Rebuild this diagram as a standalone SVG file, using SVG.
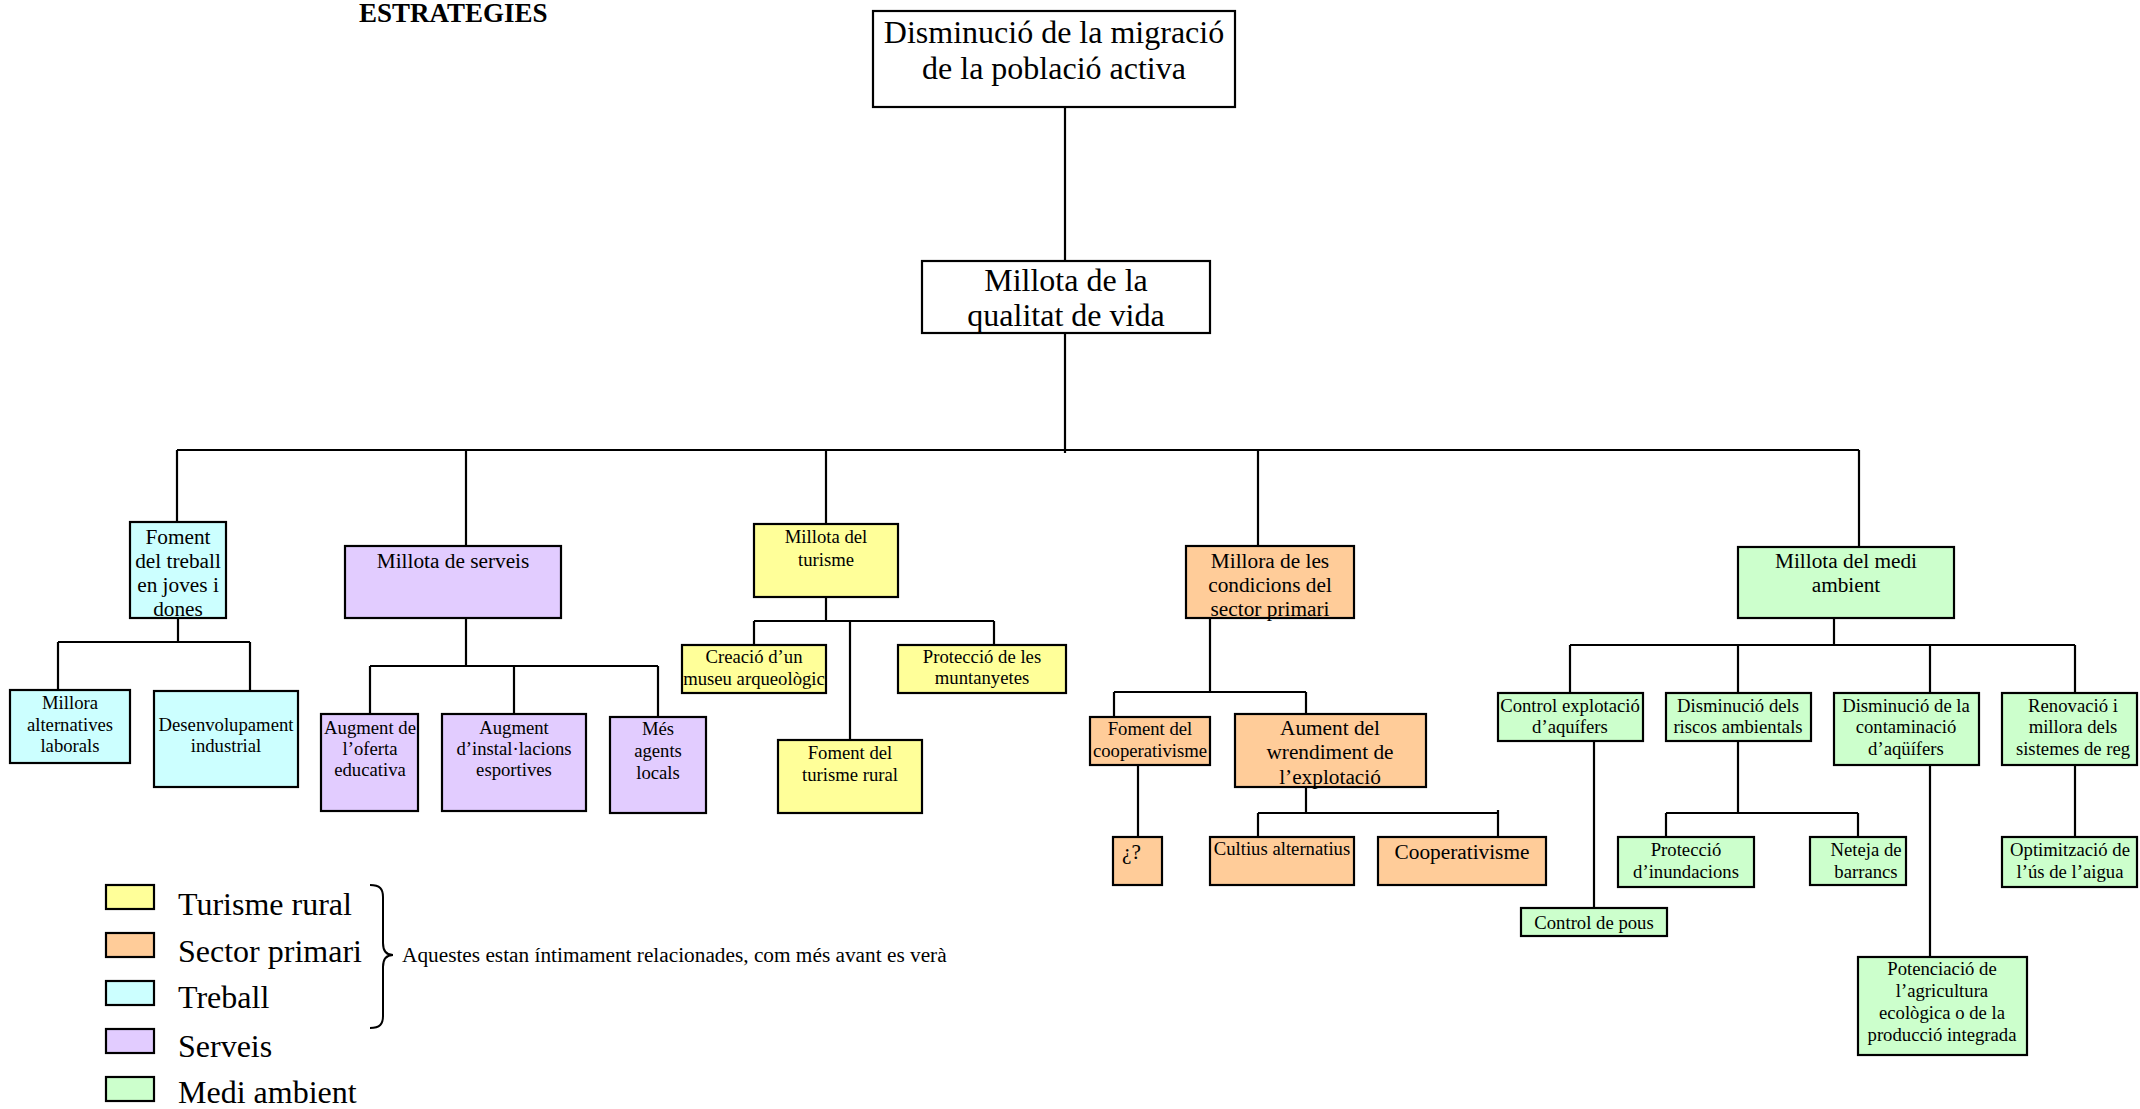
<svg xmlns="http://www.w3.org/2000/svg" width="2140" height="1109" viewBox="0 0 2140 1109">
<style>
text{font-family:"Liberation Serif","Times New Roman",serif;fill:#000;text-anchor:middle}
.b{stroke:#000;stroke-width:2.2}
.w{fill:#fff}.y{fill:#FFFF99}.o{fill:#FFCC99}.c{fill:#CCFFFF}.p{fill:#E2CCFF}.g{fill:#CCFFCC}
.L{font-size:32px}.M{font-size:21.3px}.S{font-size:18.7px}
#conn path{fill:none;stroke:#000;stroke-width:2.2}
</style>
<rect width="2140" height="1109" fill="#fff"/>
<text x="359" y="22" style="font-size:27px;font-weight:bold;text-anchor:start">ESTRATEGIES</text>
<g id="conn">
<path d="M1065 107V261M1065 333V453M177 450H1859M177 450V522M466 450V546M826 450V524M1258 450V546M1859 450V547"/>
<path d="M178 618V642M58 642H250M58 642V690M250 642V690"/>
<path d="M466 618V666M370 666H658M370 666V714M514 666V714M658 666V717"/>
<path d="M826 597V621M754 621H994M754 621V645M850 621V740M994 621V645"/>
<path d="M1210 618V692M1114 692H1306M1114 692V717M1306 692V714M1138 765V837"/>
<path d="M1306 787V813M1258 813H1498M1258 813V837M1498 810V837"/>
<path d="M1834 618V645M1570 645H2075M1570 645V693M1738 645V693M1930 645V693M2075 645V693"/>
<path d="M1594 741V908M1738 741V813M1666 813H1858M1666 813V837M1858 813V837M1930 765V957M2075 765V837"/>
</g>
<g id="n-top"><rect class="b w" x="873" y="11" width="362" height="96"/><text class="L" x="1054"><tspan x="1054" y="43">Disminució de la migració</tspan><tspan x="1054" y="79">de la població activa</tspan></text></g>
<g id="n-qualitat"><rect class="b w" x="922" y="261" width="288" height="72"/><text class="L" x="1066"><tspan x="1066" y="291">Millota de la</tspan><tspan x="1066" y="326">qualitat de vida</tspan></text></g>
<g id="n-treball"><rect class="b c" x="130" y="522" width="96" height="96"/><text class="M"><tspan x="178" y="544">Foment</tspan><tspan x="178" y="568">del treball</tspan><tspan x="178" y="592">en joves i</tspan><tspan x="178" y="616">dones</tspan></text></g>
<g id="n-serveis"><rect class="b p" x="345" y="546" width="216" height="72"/><text class="M" x="453" y="568">Millota de serveis</text></g>
<g id="n-turisme"><rect class="b y" x="754" y="524" width="144" height="73"/><text class="S"><tspan x="826" y="543">Millota del</tspan><tspan x="826" y="566">turisme</tspan></text></g>
<g id="n-primari"><rect class="b o" x="1186" y="546" width="168" height="72"/><text class="M"><tspan x="1270" y="568">Millora de les</tspan><tspan x="1270" y="592">condicions del</tspan><tspan x="1270" y="616">sector primari</tspan></text></g>
<g id="n-medi"><rect class="b g" x="1738" y="547" width="216" height="71"/><text class="M"><tspan x="1846" y="568">Millota del medi</tspan><tspan x="1846" y="592">ambient</tspan></text></g>
<g id="n-alternatives"><rect class="b c" x="10" y="690" width="120" height="73"/><text class="S"><tspan x="70" y="709">Millora</tspan><tspan x="70" y="731">alternatives</tspan><tspan x="70" y="752">laborals</tspan></text></g>
<g id="n-industrial"><rect class="b c" x="154" y="691" width="144" height="96"/><text class="S"><tspan x="226" y="731">Desenvolupament</tspan><tspan x="226" y="752">industrial</tspan></text></g>
<g id="n-educativa"><rect class="b p" x="321" y="714" width="97" height="97"/><text class="S"><tspan x="370" y="734">Augment de</tspan><tspan x="370" y="755">l’oferta</tspan><tspan x="370" y="776">educativa</tspan></text></g>
<g id="n-esportives"><rect class="b p" x="442" y="714" width="144" height="97"/><text class="S"><tspan x="514" y="734">Augment</tspan><tspan x="514" y="755">d’instal·lacions</tspan><tspan x="514" y="776">esportives</tspan></text></g>
<g id="n-agents"><rect class="b p" x="610" y="717" width="96" height="96"/><text class="S"><tspan x="658" y="735">Més</tspan><tspan x="658" y="757">agents</tspan><tspan x="658" y="779">locals</tspan></text></g>
<g id="n-museu"><rect class="b y" x="682" y="645" width="144" height="48"/><text class="S"><tspan x="754" y="663">Creació d’un</tspan><tspan x="754" y="685">museu arqueològic</tspan></text></g>
<g id="n-muntanyetes"><rect class="b y" x="898" y="645" width="168" height="48"/><text class="S"><tspan x="982" y="663">Protecció de les</tspan><tspan x="982" y="684">muntanyetes</tspan></text></g>
<g id="n-rural"><rect class="b y" x="778" y="740" width="144" height="73"/><text class="S"><tspan x="850" y="759">Foment del</tspan><tspan x="850" y="781">turisme rural</tspan></text></g>
<g id="n-foment-coop"><rect class="b o" x="1090" y="717" width="120" height="48"/><text class="S"><tspan x="1150" y="735">Foment del</tspan><tspan x="1150" y="757">cooperativisme</tspan></text></g>
<g id="n-aument"><rect class="b o" x="1235" y="714" width="191" height="73"/><text class="M"><tspan x="1330" y="735">Aument del</tspan><tspan x="1330" y="759">wrendiment de</tspan><tspan x="1330" y="784">l’explotació</tspan></text></g>
<g id="n-q"><rect class="b o" x="1113" y="837" width="49" height="48"/><text class="M" x="1122" y="859" style="text-anchor:start">¿?</text></g>
<g id="n-cultius"><rect class="b o" x="1210" y="837" width="144" height="48"/><text class="S" x="1282" y="855">Cultius alternatius</text></g>
<g id="n-cooperativisme"><rect class="b o" x="1378" y="837" width="168" height="48"/><text class="M" x="1462" y="859">Cooperativisme</text></g>
<g id="n-control"><rect class="b g" x="1498" y="693" width="145" height="48"/><text class="S"><tspan x="1570" y="712">Control explotació</tspan><tspan x="1570" y="733">d’aquífers</tspan></text></g>
<g id="n-riscos"><rect class="b g" x="1666" y="693" width="145" height="48"/><text class="S"><tspan x="1738" y="712">Disminució dels</tspan><tspan x="1738" y="733">riscos ambientals</tspan></text></g>
<g id="n-contaminacio"><rect class="b g" x="1834" y="693" width="145" height="72"/><text class="S"><tspan x="1906" y="712">Disminució de la</tspan><tspan x="1906" y="733">contaminació</tspan><tspan x="1906" y="755">d’aqüífers</tspan></text></g>
<g id="n-reg"><rect class="b g" x="2002" y="693" width="135" height="72"/><text class="S"><tspan x="2073" y="712">Renovació i</tspan><tspan x="2073" y="733">millora dels</tspan><tspan x="2073" y="755">sistemes de reg</tspan></text></g>
<g id="n-inundacions"><rect class="b g" x="1618" y="837" width="136" height="50"/><text class="S"><tspan x="1686" y="856">Protecció</tspan><tspan x="1686" y="878">d’inundacions</tspan></text></g>
<g id="n-barrancs"><rect class="b g" x="1810" y="837" width="96" height="48"/><text class="S"><tspan x="1866" y="856">Neteja de</tspan><tspan x="1866" y="878">barrancs</tspan></text></g>
<g id="n-aigua"><rect class="b g" x="2002" y="837" width="135" height="50"/><text class="S"><tspan x="2070" y="856">Optimització de</tspan><tspan x="2070" y="878">l’ús de l’aigua</tspan></text></g>
<g id="n-pous"><rect class="b g" x="1521" y="908" width="146" height="28"/><text class="S" x="1594" y="929">Control de pous</text></g>
<g id="n-potenciacio"><rect class="b g" x="1858" y="957" width="169" height="98"/><text class="S"><tspan x="1942" y="975">Potenciació de</tspan><tspan x="1942" y="997">l’agricultura</tspan><tspan x="1942" y="1019">ecològica o de la</tspan><tspan x="1942" y="1041">producció integrada</tspan></text></g>
<g id="legend">
<rect class="b y" x="106" y="885" width="48" height="24"/>
<rect class="b o" x="106" y="933" width="48" height="24"/>
<rect class="b c" x="106" y="981" width="48" height="24"/>
<rect class="b p" x="106" y="1029" width="48" height="24"/>
<rect class="b g" x="106" y="1077" width="48" height="24"/>
<g class="L" style="text-anchor:start">
<text x="178" y="915" style="text-anchor:start">Turisme rural</text>
<text x="178" y="962" style="text-anchor:start">Sector primari</text>
<text x="178" y="1008" style="text-anchor:start">Treball</text>
<text x="178" y="1057" style="text-anchor:start">Serveis</text>
<text x="178" y="1103" style="text-anchor:start">Medi ambient</text>
</g>
<path d="M370 885C380 885 383 889 383 897V943C383 951 386 955 393 955C386 955 383 959 383 967V1016C383 1024 380 1028 370 1028" fill="none" stroke="#000" stroke-width="2"/>
<text x="402" y="962" style="font-size:21.3px;text-anchor:start">Aquestes estan íntimament relacionades, com més avant es verà</text>
</g>
</svg>
